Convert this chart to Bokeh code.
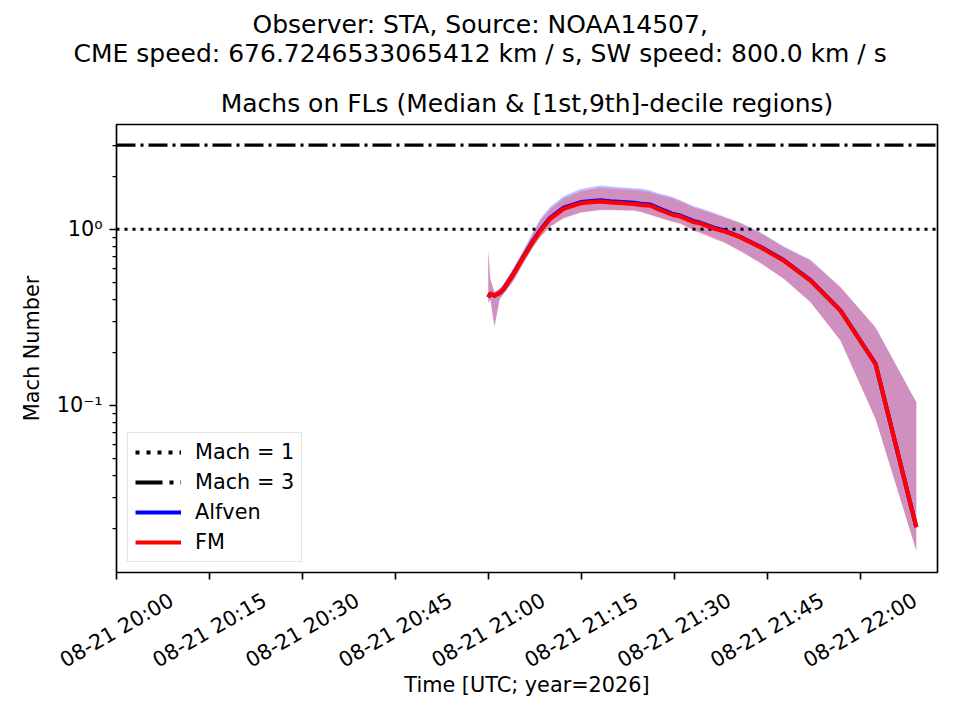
import datetime as dt
from math import pi

from bokeh.plotting import figure
from bokeh.models import (FixedTicker, ColumnDataSource, Range1d, Legend, LegendItem,
                          Title, DatetimeAxis, DatetimeTickFormatter,
                          CustomLabelingPolicy)
from bokeh.embed import file_html
from bokeh.resources import INLINE

# ---------------- data ----------------
DATE = "2026-08-21"

times = ["21:00:00", "21:00:20", "21:01:00", "21:01:50", "21:02:30", "21:04:05",
         "21:05:40", "21:07:20", "21:08:25", "21:10:00", "21:12:10", "21:14:55",
         "21:18:05", "21:19:40", "21:23:30", "21:24:35", "21:26:10", "21:27:10",
         "21:29:40", "21:31:00", "21:33:10", "21:34:10", "21:36:25", "21:38:00",
         "21:40:40", "21:43:55", "21:47:40", "21:52:00", "21:56:50", "22:02:30",
         "22:09:05"]

fm_med = [0.411, 0.430, 0.420, 0.435, 0.458, 0.558, 0.693, 0.863, 0.98, 1.146,
          1.306, 1.405, 1.44, 1.42, 1.39, 1.375, 1.36, 1.31, 1.21, 1.18, 1.096,
          1.08, 1.01, 0.975, 0.90, 0.79, 0.664, 0.511, 0.345, 0.172, 0.0203]
fm_up = [0.76, 0.52, 0.44, 0.46, 0.49, 0.60, 0.75, 0.96, 1.12, 1.30, 1.50, 1.64,
         1.72, 1.70, 1.67, 1.66, 1.62, 1.58, 1.50, 1.44, 1.33, 1.30, 1.22, 1.17,
         1.08, 0.95, 0.79, 0.664, 0.468, 0.277, 0.104]
fm_lo = [0.38, 0.40, 0.28, 0.40, 0.43, 0.51, 0.64, 0.80, 0.90, 1.03, 1.15, 1.24,
         1.28, 1.28, 1.27, 1.25, 1.20, 1.17, 1.10, 1.07, 0.98, 0.95, 0.88, 0.84,
         0.75, 0.64, 0.523, 0.385, 0.233, 0.0837, 0.0149]

alf_med = [0.411, 0.430, 0.420, 0.435, 0.458, 0.560, 0.697, 0.870, 0.99, 1.16,
           1.325, 1.425, 1.46, 1.44, 1.41, 1.395, 1.38, 1.33, 1.225, 1.195, 1.11,
           1.09, 1.02, 0.985, 0.905, 0.795, 0.668, 0.513, 0.346, 0.172, 0.0203]
alf_up = [0.76, 0.52, 0.44, 0.46, 0.49, 0.60, 0.76, 0.98, 1.15, 1.34, 1.54, 1.69,
          1.77, 1.75, 1.71, 1.70, 1.66, 1.61, 1.53, 1.46, 1.35, 1.32, 1.24, 1.18,
          1.09, 0.96, 0.80, 0.67, 0.47, 0.278, 0.104]
alf_lo = [0.38, 0.40, 0.28, 0.40, 0.43, 0.51, 0.64, 0.80, 0.91, 1.04, 1.16, 1.25,
          1.29, 1.29, 1.28, 1.26, 1.21, 1.18, 1.11, 1.08, 0.99, 0.96, 0.89, 0.845,
          0.755, 0.645, 0.525, 0.386, 0.234, 0.084, 0.015]

mach_levels = [1.0, 3.0]
mach_labels = ["Mach = 1", "Mach = 3"]

tick_times = ["20:00", "20:15", "20:30", "20:45", "21:00", "21:15", "21:30",
              "21:45", "22:00"]
tick_labels = ["08-21 20:00", "08-21 20:15", "08-21 20:30", "08-21 20:45",
               "08-21 21:00", "08-21 21:15", "08-21 21:30", "08-21 21:45",
               "08-21 22:00"]
x_start, x_end = "20:00:00", "22:12:30"
y_start, y_end = 0.01125, 3.93

suptitle1 = "Observer: STA, Source: NOAA14507,"
suptitle2 = "CME speed: 676.7246533065412 km / s, SW speed: 800.0 km / s"
ax_title = "Machs on FLs (Median & [1st,9th]-decile regions)"

# ---------------- helpers ----------------
EPOCH = dt.datetime(1970, 1, 1)


def to_ms(hms):
    fmt = "%Y-%m-%d %H:%M:%S" if hms.count(":") == 2 else "%Y-%m-%d %H:%M"
    d = dt.datetime.strptime(DATE + " " + hms, fmt)
    return (d - EPOCH).total_seconds() * 1000.0


t_ms = [to_ms(s) for s in times]
tick_ms = [to_ms(s) for s in tick_times]
x0, x1 = to_ms(x_start), to_ms(x_end)

FONT = "DejaVu Sans"
FS = "20.8px"
TFS = "25px"

# label anchor shift (centres the rotated tick labels on their ticks)
LABEL_SHIFT_MS = 8.9 * 60 * 1000

p = figure(width=944, height=704, x_axis_type="datetime", y_axis_type="log",
           x_range=Range1d(x0, x1), y_range=Range1d(y_start, y_end),
           output_backend="svg", toolbar_location=None, title=None,
           min_border_left=116, min_border_right=7, min_border_top=124,
           min_border_bottom=132)
p.extra_x_ranges = {"lab": Range1d(x0 - LABEL_SHIFT_MS, x1 - LABEL_SHIFT_MS)}
p.grid.visible = False
p.outline_line_color = "black"
p.outline_line_width = 1.67
p.outline_line_alpha = 1.0
p.background_fill_color = "white"
p.border_fill_color = "white"

# bands and lines
src = ColumnDataSource(dict(t=t_ms, fm_med=fm_med, fm_up=fm_up, fm_lo=fm_lo,
                            alf_med=alf_med, alf_up=alf_up, alf_lo=alf_lo))
p.varea(x="t", y1="alf_lo", y2="alf_up", source=src, fill_color="blue",
        fill_alpha=0.25)
p.varea(x="t", y1="fm_lo", y2="fm_up", source=src, fill_color="red",
        fill_alpha=0.25)

# horizontal Mach lines across the full x range
p.line(x=[x0, x1], y=[mach_levels[0]] * 2, line_color="black",
       line_width=3.1, line_dash="3 5")
p.line(x=[x0, x1], y=[mach_levels[1]] * 2, line_color="black",
       line_width=3.1, line_dash="19 5 3 5")

# legend proxies (not drawn in the plot: NaN levels)
nan = float("nan")
r_m1 = p.line(x=[x0, x1], y=[nan, nan], line_color="black", line_width=4.17,
              line_dash="4 7")
r_m3 = p.line(x=[x0, x1], y=[nan, nan], line_color="black", line_width=4.17,
              line_dash="27 7 4 7")

r_alf = p.line(x="t", y="alf_med", source=src, line_color="blue",
               line_width=4.17, line_join="round")
r_fm = p.line(x="t", y="fm_med", source=src, line_color="red",
              line_width=4.17, line_join="round")


def style_axis(ax):
    ax.axis_line_color = None
    ax.major_tick_in = 0
    ax.major_tick_out = 7
    ax.minor_tick_in = 0
    ax.minor_tick_out = 4
    ax.major_tick_line_width = 1.67
    ax.minor_tick_line_width = 1.25
    ax.major_tick_line_color = "black"
    ax.minor_tick_line_color = "black"
    ax.major_label_text_font = FONT
    ax.major_label_text_font_size = FS
    ax.major_label_text_color = "black"
    ax.axis_label_text_font = FONT
    ax.axis_label_text_font_size = FS
    ax.axis_label_text_font_style = "normal"
    ax.axis_label_text_color = "black"


style_axis(p.xaxis[0])
style_axis(p.yaxis[0])

minor = [m * 10.0 ** k for k in (-3, -2, -1, 0) for m in range(2, 10)]
p.yaxis.ticker = FixedTicker(ticks=[0.01, 0.1, 1.0], minor_ticks=minor)
p.yaxis.major_label_overrides = {0.01: "10⁻²", 0.1: "10⁻¹", 1.0: "10⁰"}
p.yaxis.major_label_standoff = 7
p.yaxis.axis_label = "Mach Number"
p.yaxis.axis_label_standoff = 10

# tick marks axis (labels suppressed; the label axis below carries them)
p.xaxis[0].ticker = FixedTicker(ticks=tick_ms, minor_ticks=[])
p.xaxis[0].major_label_text_font_size = "0px"
p.xaxis[0].major_label_standoff = 0
p.xaxis[0].major_label_policy = CustomLabelingPolicy(code="""
    const n = indices.size;
    for (let i = 0; i < n; i++) { indices.unset(i); }
    return indices;
""")

# label axis: rotated tick labels + axis label
fmt = "%m-%d %H:%M"
lab_axis = DatetimeAxis(x_range_name="lab",
                        ticker=FixedTicker(ticks=tick_ms, minor_ticks=[]),
                        formatter=DatetimeTickFormatter(
                            seconds=fmt, minsec=fmt, minutes=fmt, hourmin=fmt,
                            hours=fmt, days=fmt, months=fmt, years=fmt))
style_axis(lab_axis)
lab_axis.major_tick_out = 0
lab_axis.minor_tick_out = 0
lab_axis.major_tick_line_color = None
lab_axis.minor_tick_line_color = None
lab_axis.major_label_overrides = dict(zip(tick_ms, tick_labels))
lab_axis.major_label_orientation = pi / 6
lab_axis.major_label_standoff = 19
lab_axis.axis_label = "Time [UTC; year=2026]"
lab_axis.axis_label_standoff = -13
p.add_layout(lab_axis, "below")

# titles (inner to outer)
p.add_layout(Title(text=ax_title, align="center", vertical_align="bottom",
                   standoff=13, text_font=FONT, text_font_size=TFS,
                   text_font_style="normal", text_color="black"), "above")
p.add_layout(Title(text=suptitle2, align="left", offset=-43,
                   vertical_align="bottom", standoff=26, text_font=FONT,
                   text_font_size=TFS, text_font_style="normal",
                   text_color="black"), "above")
p.add_layout(Title(text=suptitle1, align="left", offset=136,
                   vertical_align="bottom", standoff=-30, text_font=FONT,
                   text_font_size=TFS, text_font_style="normal",
                   text_color="black"), "above")

legend = Legend(items=[LegendItem(label=mach_labels[0], renderers=[r_m1]),
                       LegendItem(label=mach_labels[1], renderers=[r_m3]),
                       LegendItem(label="Alfven", renderers=[r_alf]),
                       LegendItem(label="FM", renderers=[r_fm])],
                location=(11, 10), label_text_font=FONT,
                label_text_font_size=FS, label_text_color="black",
                glyph_width=46, glyph_height=24, label_height=24,
                label_standoff=14, spacing=6, padding=7, margin=0,
                border_line_color="#cccccc", border_line_width=1.67,
                background_fill_alpha=0.8)
p.add_layout(legend)

open("out.html", "w").write(file_html(p, INLINE))
